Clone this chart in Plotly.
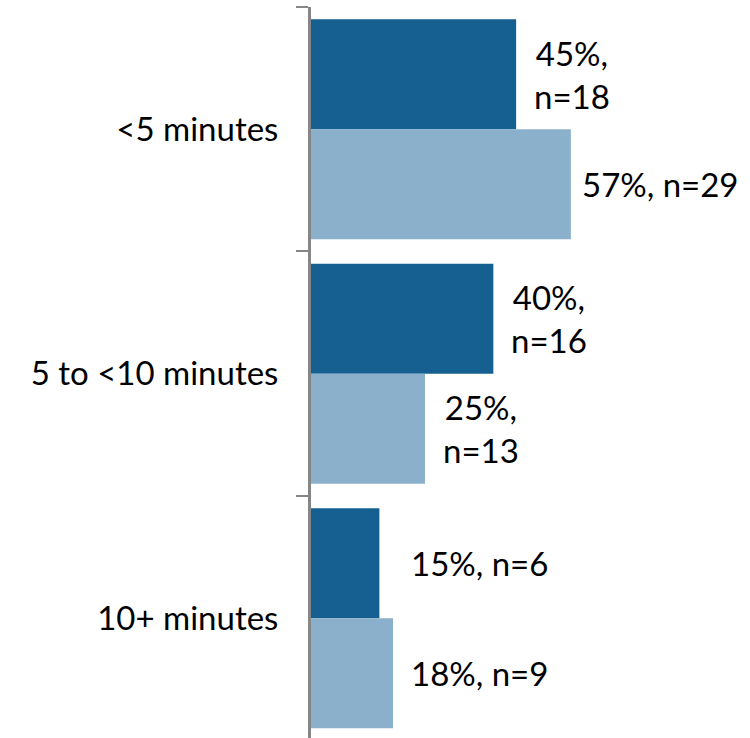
import plotly.graph_objects as go

categories = ["<5 minutes", "5 to <10 minutes", "10+ minutes"]
dark_pct = [45, 40, 15]
dark_n = [18, 16, 6]
light_pct = [57, 25, 18]
light_n = [29, 13, 9]
# whether the data label wraps onto two lines
dark_wrap = [True, True, False]
light_wrap = [False, True, False]

DARK = "#156091"
LIGHT = "#8AB0CB"
FONT = "Lato"
# horizontal gap (px) between bar end and its label, per label (style only)
dark_gap = [16, 16, 30]
light_gap = [9, 16, 16]

def labels(pcts, ns, wraps):
    out = []
    for p, n, w in zip(pcts, ns, wraps):
        sep = ",<br>" if w else ", "
        out.append(f"{p}%{sep}n={n}")
    return out

fig = go.Figure()
fig.add_trace(go.Bar(y=categories, x=dark_pct, orientation="h", marker_color=DARK,
                     marker_line_width=0, name="dark"))
fig.add_trace(go.Bar(y=categories, x=light_pct, orientation="h", marker_color=LIGHT,
                     marker_line_width=0, name="light"))

for trace_idx, (pcts, ns, wraps, gaps) in enumerate([(dark_pct, dark_n, dark_wrap, dark_gap),
                                                      (light_pct, light_n, light_wrap, light_gap)]):
    texts = labels(pcts, ns, wraps)
    for i, (cat, p) in enumerate(zip(categories, pcts)):
        fig.add_annotation(x=p, y=i + (-0.225 if trace_idx == 0 else 0.225),
                           yref="y", xref="x", text=texts[i], showarrow=False,
                           xanchor="left", yanchor="middle", xshift=gaps[i],
                           align="center",
                           font=dict(family=FONT, size=33, color="#000000"))

fig.update_layout(
    width=750, height=738,
    margin=dict(l=311, r=0, t=7, b=0, autoexpand=False),
    barmode="group", bargap=0.1, bargroupgap=0,
    plot_bgcolor="white", paper_bgcolor="white",
    showlegend=False,
    font=dict(family=FONT, size=33, color="#000000"),
    xaxis=dict(range=[0, 96.3], visible=False, showgrid=False, zeroline=False,
               automargin=False),
    yaxis=dict(type="category", range=[2.49, -0.5], showgrid=False, zeroline=False,
               automargin=False,
               showline=True, linecolor="#868686", linewidth=3,
               ticks="outside", ticklen=12, tickwidth=2, tickcolor="#868686",
               tickson="boundaries", ticklabelstandoff=23,
               tickfont=dict(family=FONT, size=33, color="#000000")),
)

fig.write_html("out.html", config={"displayModeBar": False},
               post_script="document.body.style.margin='0';document.body.style.overflow='hidden';")
